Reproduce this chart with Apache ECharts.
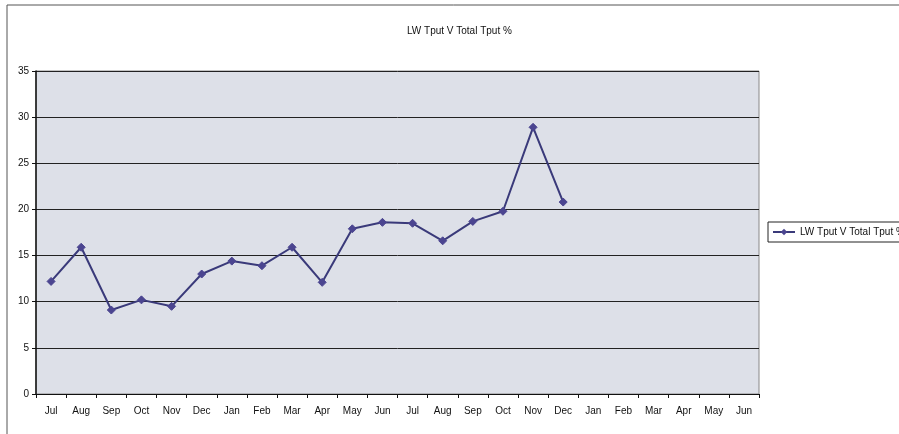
<!DOCTYPE html>
<html><head><meta charset="utf-8">
<script src="https://cdn.jsdelivr.net/npm/echarts@6/dist/echarts.min.js"></script>
<style>html,body{margin:0;padding:0;background:#fff;}#c{width:899px;height:434px;}</style>
</head><body><div id="c"></div>
<script>
const categories = ['Jul','Aug','Sep','Oct','Nov','Dec','Jan','Feb','Mar','Apr','May','Jun','Jul','Aug','Sep','Oct','Nov','Dec','Jan','Feb','Mar','Apr','May','Jun'];
const seriesName = 'LW Tput V Total Tput %';
const values = [12.2, 15.9, 9.1, 10.2, 9.5, 13.0, 14.4, 13.9, 15.9, 12.1, 17.9, 18.6, 18.5, 16.6, 18.7, 19.8, 28.9, 20.8];
const yTicks = [0, 35, 5];
const font = "'Liberation Sans Narrow', 'Arial Narrow', 'Liberation Sans', Arial, sans-serif";
const chart = echarts.init(document.getElementById('c'), null, {renderer:'canvas'});
chart.setOption({
  animation:false,
  backgroundColor:'#fff',
  graphic:[{type:'rect', shape:{x:7,y:5,width:1000,height:1000}, style:{fill:'none', stroke:'#555', lineWidth:1}, silent:true}],
  title:{text:seriesName, left:402, top:21, textStyle:{fontFamily:font, fontSize:10, fontWeight:'normal', color:'#111'}},
  legend:{left:768, top:222, itemWidth:22, itemHeight:8, itemGap:0, padding:[5,4,5,4], borderColor:'#222', borderWidth:1,
    textStyle:{fontFamily:font, fontSize:10, color:'#111'}, data:[seriesName]},
  grid:{left:36, right:140, top:71, bottom:40, show:true, backgroundColor:'#dde0e8', borderColor:'#888', borderWidth:1},
  xAxis:{type:'category', data:categories, boundaryGap:true,
    axisLine:{lineStyle:{color:'#111', width:1}}, axisTick:{show:true, length:4, lineStyle:{color:'#111'}},
    axisLabel:{fontFamily:font, fontSize:10, color:'#111', margin:12, interval:0}},
  yAxis:{type:'value', min:yTicks[0], max:yTicks[1], interval:yTicks[2],
    axisLine:{show:true, lineStyle:{color:'#111', width:1.5}}, axisTick:{show:true, length:4, lineStyle:{color:'#111'}},
    axisLabel:{fontFamily:font, fontSize:10, color:'#111', margin:7},
    splitLine:{lineStyle:{color:'#222', width:1}}},
  series:[{name:seriesName, type:'line', data:values, symbol:'diamond', symbolSize:8,
    lineStyle:{color:'#3a3a7a', width:2}, itemStyle:{color:'#4b4590', borderColor:'#4b4590'}}]
});
</script></body></html>
